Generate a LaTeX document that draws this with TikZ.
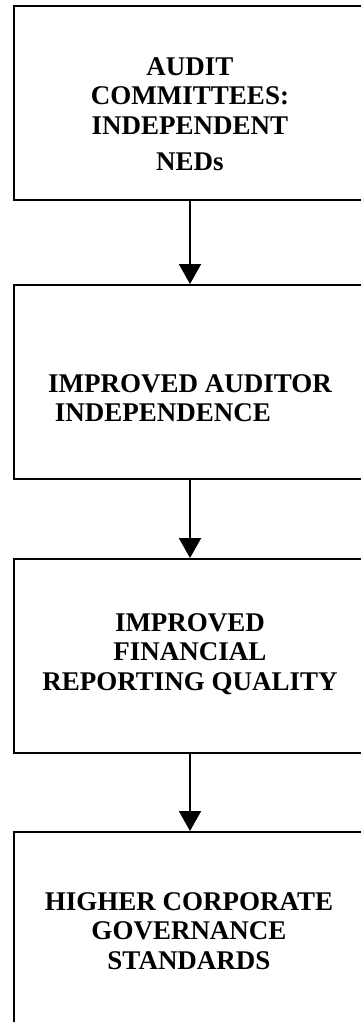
\documentclass[tikz,border=0pt]{standalone}
\usepackage{fontspec}
\setmainfont{Liberation Serif}
\usetikzlibrary{arrows.meta}
\tikzset{stage/.style = {draw, line width=2pt, minimum width=352pt, minimum height=194pt}}
\tikzset{stagetext/.style = {font=\fontsize{27}{29.5}\selectfont\bfseries, align=center}}
\tikzset{flow/.style = {line width=2pt, -{Triangle[width=22pt,length=20pt]}}}

\begin{document}
\begin{tikzpicture}[x=1pt, y=-1pt]
      \useasboundingbox (0, 0) rectangle (361, 1022);
      \clip (0, 0) rectangle (361, 1022);
      % the four stages, top to bottom
      \node [stage] (audit)     at (190, 103) {};
      \node [stage] (auditor)   at (190, 382) {};
      \node [stage] (reporting) at (190, 656) {};
      \node [stage] (governance) at (190, 929) {};
      \node [stagetext] (audit-text) at (190, 114) {AUDIT\\COMMITTEES:\\INDEPENDENT\\[7pt]NEDs};
      \node [stagetext, align=left] (auditor-text) at (190, 398) {IMPROVED AUDITOR\\\hspace{0.25em}INDEPENDENCE};
      \node [stagetext] (reporting-text) at (190, 654) {IMPROVED\\FINANCIAL\\REPORTING QUALITY};
      \node [stagetext] (governance-text) at (189, 931) {HIGHER CORPORATE\\GOVERNANCE\\STANDARDS};
      \draw [flow] (audit) -- (auditor);
      \draw [flow] (auditor) -- (reporting);
      \draw [flow] (reporting) -- (governance);
    \end{tikzpicture}
\end{document}
